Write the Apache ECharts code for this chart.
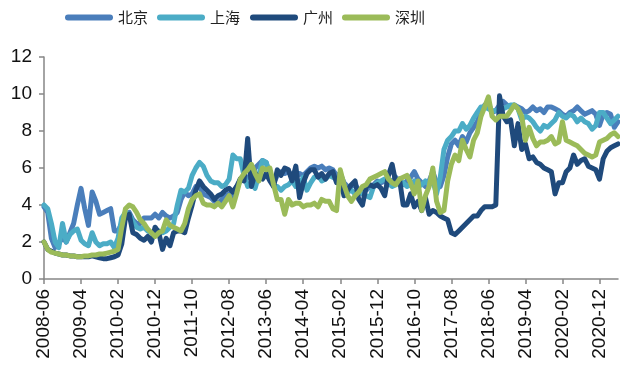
<!DOCTYPE html>
<html>
<head>
<meta charset="utf-8">
<script src="https://cdn.jsdelivr.net/npm/echarts@6/dist/echarts.min.js"></script>
<style>
  html, body { margin: 0; padding: 0; background: #fff; }
  #chart { width: 620px; height: 368px; }
</style>
</head>
<body>
<div id="chart"></div>
<script>
// Monthly categories, 2008-06 through 2021-05
const startYear = 2008, startMonth = 6, monthCount = 156;
const months = [];
for (let k = 0; k < monthCount; k++) {
  const m = startMonth - 1 + k;
  const y = startYear + Math.floor(m / 12);
  const mm = (m % 12) + 1;
  months.push(y + '-' + (mm < 10 ? '0' + mm : mm));
}

const seriesNames = ['北京', '上海', '广州', '深圳'];

const beijing = [
  3.9,3.6,2.2,1.7,1.9,2.3,2.0,2.5,3.0,4.0, 4.9,3.8,2.9,4.7,4.2,3.5,3.6,3.7,3.8,2.6,
  2.6,3.0,3.5,3.6,3.2,3.0,3.0,3.3,3.3,3.3, 3.5,3.3,3.6,3.4,3.3,3.4,3.6,4.3,4.7,4.5,
  4.6,5.0,5.0,4.6,4.5,4.4,4.2,4.1,4.3,4.5, 4.6,4.4,4.8,5.4,5.6,5.5,5.5,6.0,6.2,6.4,
  6.3,5.5,5.2,5.6,5.8,5.7,5.8,5.6,5.5,5.7, 5.6,5.8,6.0,6.1,6.0,6.1,5.9,6.0,5.9,5.6,
  5.7,5.2,5.0,5.0,5.1,4.8,4.9,4.8,5.0,5.1, 5.3,5.2,5.3,5.1,5.3,5.5,5.2,5.1,5.3,5.5,
  5.8,5.4,5.2,5.0,5.3,5.8,5.2,5.0,5.6,6.6, 7.3,7.5,7.2,7.7,7.4,7.9,8.2,8.5,9.0,9.4,
  9.5,9.0,9.1,9.4,9.6,9.4,9.3,9.4,9.3,9.2, 9.0,9.1,9.3,9.1,9.2,9.0,9.3,9.3,9.2,9.1,
  8.9,8.8,9.0,9.1,9.3,9.1,8.9,9.0,9.1,8.9, 8.3,8.9,9.0,8.9,8.2,8.5
];

const shanghai = [
  4.0,3.8,3.0,2.0,1.7,3.0,2.0,2.4,2.6,2.7, 2.1,1.9,1.8,2.5,2.0,1.8,1.9,1.9,2.0,1.7,
  2.2,3.3,3.6,3.5,3.1,2.8,2.7,2.8,2.6,2.5, 2.4,2.6,2.5,2.6,2.8,3.0,4.0,4.8,4.7,4.9,
  5.6,6.0,6.3,6.1,5.6,5.3,5.2,5.2,5.0,5.1, 5.4,6.7,6.5,6.5,5.6,5.0,5.2,4.9,5.6,6.4,
  6.3,5.7,5.0,5.0,4.8,5.0,5.1,5.3,5.0,5.1, 5.5,4.8,5.2,5.5,5.6,5.3,5.4,5.6,5.5,5.4,
  5.2,4.9,4.7,4.8,4.6,4.7,4.6,4.5,4.4,5.0, 5.2,5.3,5.4,5.2,5.0,5.1,5.3,5.2,5.0,5.1,
  5.3,5.0,5.1,5.3,5.1,5.3,4.6,5.5,7.0,7.5, 7.7,8.0,8.0,8.4,8.1,8.3,8.7,9.0,9.3,9.3,
  9.2,9.1,9.1,9.2,9.2,9.3,9.4,9.4,9.2,8.6, 8.8,8.7,8.5,8.2,8.0,8.3,8.2,8.4,8.6,9.0,
  8.8,8.7,8.9,8.8,8.5,8.7,8.5,8.4,8.1,8.3, 9.0,9.0,8.7,8.4,8.6,8.8
];

const guangzhou = [
  2.0,1.6,1.5,1.4,1.35,1.3,1.3,1.25,1.25,1.2, 1.2,1.2,1.2,1.25,1.2,1.15,1.1,1.1,1.15,1.2,
  1.3,1.9,3.3,3.5,2.5,2.4,2.2,2.1,2.3,2.0, 2.8,2.5,1.6,2.2,1.8,2.5,2.6,2.6,2.5,3.3,
  4.0,4.8,5.3,5.0,4.8,4.6,4.3,4.5,4.6,4.8, 4.9,4.7,5.0,5.4,5.3,7.6,5.0,5.7,5.5,5.4,
  5.7,5.3,5.0,5.9,5.6,6.0,5.9,5.3,6.1,4.4, 5.2,5.7,5.9,5.9,5.5,5.7,5.4,5.7,5.8,5.2,
  5.5,4.5,4.8,5.1,5.3,4.3,4.0,5.0,5.1,5.0, 5.1,4.9,4.5,5.6,6.2,5.2,5.4,4.0,4.0,4.6,
  3.9,4.2,3.7,4.4,3.5,3.7,3.6,3.4,3.3,3.2, 2.5,2.4,2.6,2.8,3.0,3.2,3.4,3.4,3.7,3.9,
  3.9,3.9,4.0,9.9,8.8,8.5,8.6,7.2,8.4,7.0, 7.3,6.5,6.6,6.3,6.2,6.0,5.9,5.8,4.6,5.2,
  5.2,5.8,6.0,6.7,6.2,6.4,6.5,6.1,6.0,5.9, 5.4,6.5,6.9,7.1,7.2,7.3
];

const shenzhen = [
  2.0,1.6,1.45,1.4,1.35,1.3,1.3,1.25,1.25,1.2, 1.2,1.25,1.25,1.3,1.3,1.35,1.35,1.4,1.45,1.5,
  1.6,2.8,3.8,4.0,3.9,3.6,3.2,3.0,2.7,2.5, 2.3,2.5,2.6,3.2,2.9,2.8,2.7,2.6,3.0,3.8,
  4.3,4.5,4.6,4.1,4.0,4.0,3.9,4.1,3.9,4.2, 4.5,3.9,4.6,5.4,5.7,5.9,6.2,5.7,5.3,6.0,
  5.9,6.0,5.1,4.3,4.3,3.5,4.3,4.0,4.1,4.1, 3.9,4.0,4.0,4.1,3.9,4.3,4.2,4.2,3.8,3.7,
  5.9,5.1,4.5,4.2,4.5,4.7,5.0,5.1,5.4,5.5, 5.6,5.7,5.8,5.4,5.2,5.1,5.4,5.5,5.6,5.2,
  4.6,5.3,3.7,4.5,5.0,6.0,4.2,3.6,3.7,5.3, 6.2,6.7,6.4,7.5,7.0,6.6,7.5,7.9,8.8,9.3,
  9.85,8.8,8.6,8.8,8.8,8.8,9.1,9.4,9.2,8.8, 7.5,8.2,7.6,7.2,7.4,7.4,7.5,7.7,7.3,7.4,
  8.5,7.5,7.4,7.3,7.2,7.0,6.8,6.7,6.6,6.7, 7.4,7.5,7.6,7.8,7.9,7.7
];

const colors = ['#4a7ebb', '#4bacc6', '#1f4a7c', '#9bbb59'];
const seriesData = [beijing, shanghai, guangzhou, shenzhen];

const axisGrey = '#868686';
const capsule = 'path://M3,0 L45,0 A3,3 0 0 1 45,6 L3,6 A3,3 0 0 1 3,0 Z';

// one legend entry per city, laid out left to right across the top
const legendLefts = [65, 157, 250, 342];
const legends = seriesNames.map((name, k) => ({
  top: 10,
  left: legendLefts[k],
  padding: 0,
  icon: capsule,
  itemWidth: 48,
  itemHeight: 6,
  itemGap: 0,
  textStyle: {
    fontFamily: '"Noto Sans CJK SC", sans-serif',
    fontSize: 15,
    color: '#222'
  },
  data: [name]
}));

const chart = echarts.init(document.getElementById('chart'), null, { renderer: 'canvas' });
chart.setOption({
  animation: false,
  color: colors,
  legend: legends,
  grid: { left: 44, right: 2, top: 57, bottom: 89, containLabel: false },
  xAxis: {
    type: 'category',
    data: months,
    boundaryGap: false,
    axisLine: { lineStyle: { color: axisGrey, width: 1.5 } },
    axisTick: { interval: 9, length: 5, lineStyle: { color: axisGrey, width: 1.5 } },
    axisLabel: {
      interval: 9,
      rotate: 90,
      margin: 10,
      fontFamily: '"Liberation Sans", Arial, sans-serif',
      fontSize: 19,
      color: '#111'
    },
    splitLine: { show: false }
  },
  yAxis: {
    type: 'value',
    min: 0,
    max: 12,
    interval: 2,
    axisLine: { show: true, lineStyle: { color: axisGrey, width: 1.5 } },
    axisTick: { show: true, length: 5, lineStyle: { color: axisGrey, width: 1.5 } },
    axisLabel: {
      margin: 12,
      fontFamily: '"Liberation Sans", Arial, sans-serif',
      fontSize: 19,
      color: '#111'
    },
    splitLine: { show: false }
  },
  series: seriesNames.map((name, k) => ({
    name: name,
    type: 'line',
    data: seriesData[k],
    symbol: 'none',
    lineStyle: { width: 5, cap: 'round', join: 'round', color: colors[k] },
    itemStyle: { color: colors[k] },
    z: 2 + k
  }))
});
</script>
</body>
</html>
